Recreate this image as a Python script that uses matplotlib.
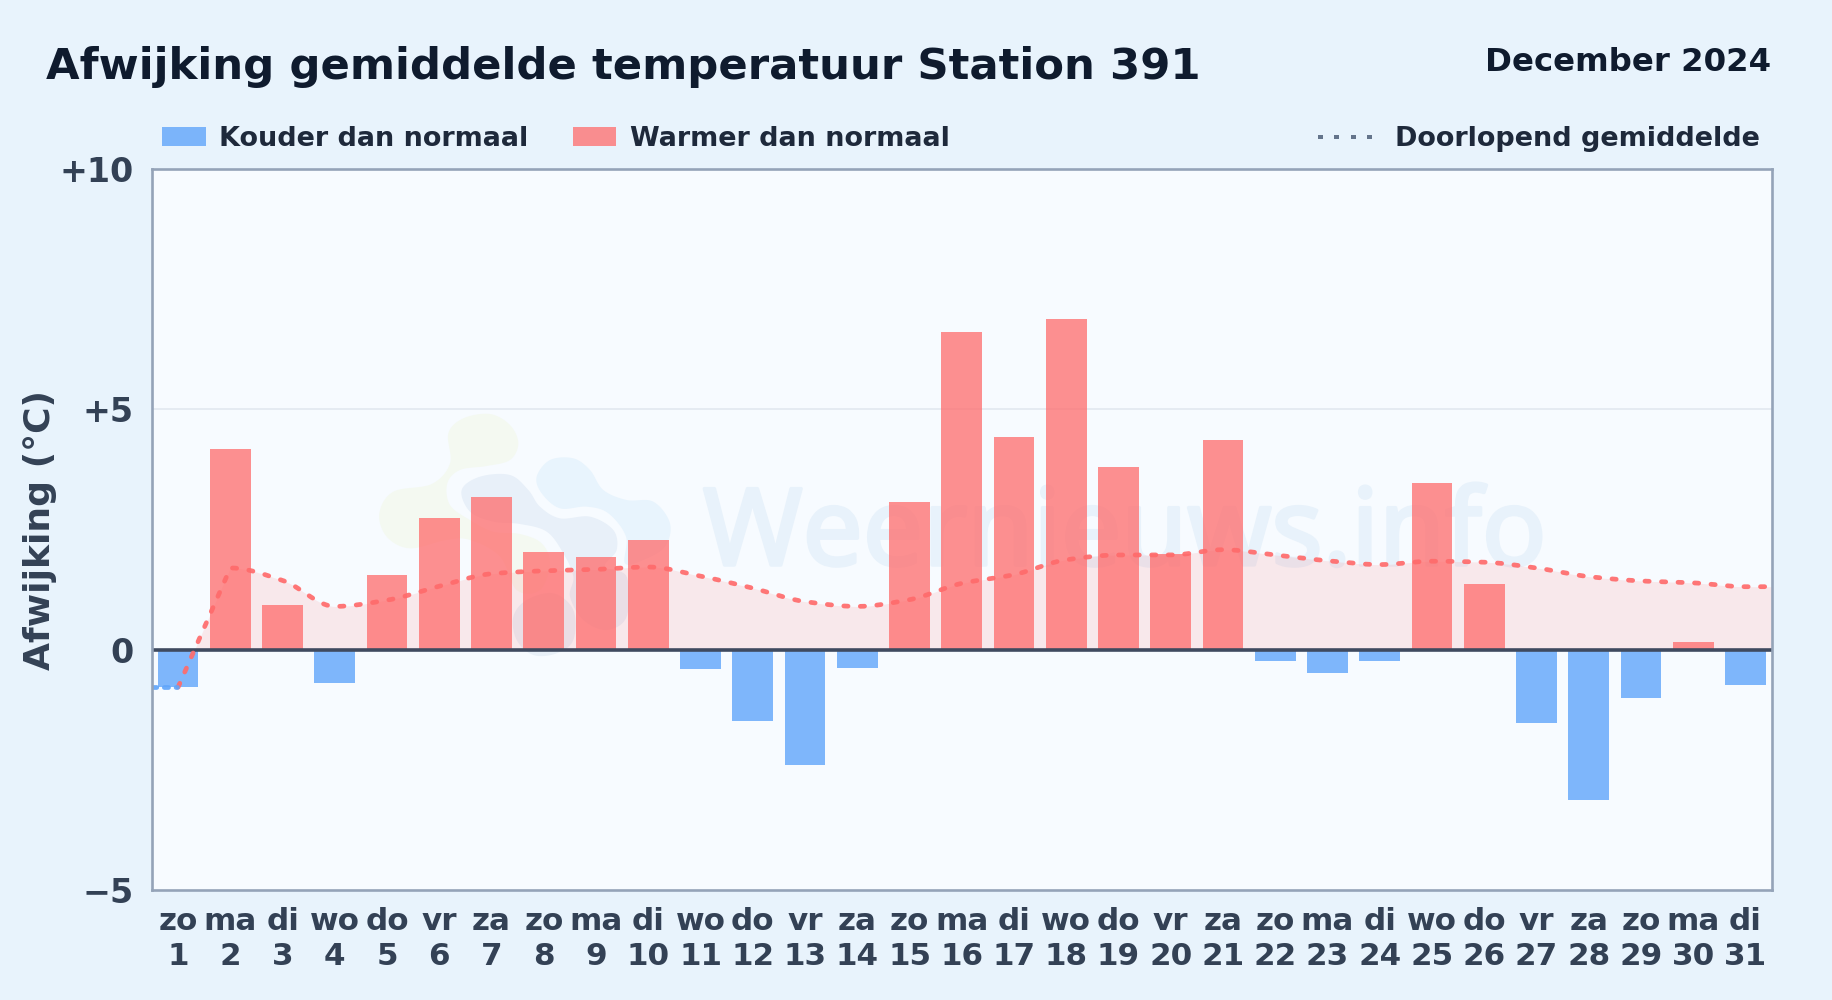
import numpy as np
import matplotlib
matplotlib.use("Agg")
import matplotlib.pyplot as plt
import matplotlib.patheffects as pe
from matplotlib.patches import PathPatch, Rectangle
from matplotlib.path import Path

W, H = 1832, 1000
plt.rcParams['font.family'] = ['DejaVu Sans']

weekdays = ["zo","ma","di","wo","do","vr","za","zo","ma","di","wo","do","vr","za","zo","ma","di","wo","do","vr","za","zo","ma","di","wo","do","vr","za","zo","ma","di"]
days = list(range(1, 32))
deviation = [-0.78,4.18,0.92,-0.70,1.55,2.74,3.18,2.04,1.92,2.28,-0.41,-1.48,-2.40,-0.39,3.08,6.60,4.42,6.87,3.81,1.99,4.37,-0.24,-0.49,-0.24,3.47,1.36,-1.53,-3.13,-1.00,0.15,-0.73]
running_mean = [-0.78,1.70,1.44,0.90,1.03,1.32,1.58,1.64,1.67,1.72,1.53,1.28,1.00,0.90,1.04,1.38,1.56,1.87,1.97,1.97,2.08,1.97,1.85,1.77,1.84,1.82,1.70,1.52,1.43,1.39,1.31]
yticks = [-5, 0, 5, 10]
yticklabels = ["\u22125", "0", "+5", "+10"]

BG = "#e8f3fc"; PLOT = "#f7fbff"; RED = "#ff6b6b"; BLUE = "#60a5fa"
INK = "#0f1b2e"; LEG = "#1e293b"; TICK = "#334155"; SPINE = "#94a3b8"


def catmull(x, y, n=24, tension=0.5):
    x = np.asarray(x, float); y = np.asarray(y, float)
    px = np.r_[x[-1], x, x[0], x[1]]; py = np.r_[y[-1], y, y[0], y[1]]
    outx, outy = [], []
    t = np.linspace(0, 1, n, endpoint=False)
    for i in range(1, len(px) - 2):
        for arr, out in ((px, outx), (py, outy)):
            p0, p1, p2, p3 = arr[i-1:i+3]
            m1 = tension * (p2 - p0); m2 = tension * (p3 - p1)
            out.extend((2*t**3-3*t**2+1)*p1 + (t**3-2*t**2+t)*m1 + (-2*t**3+3*t**2)*p2 + (t**3-t**2)*m2)
    return np.array(outx), np.array(outy)


def monotone(x, y, n=24):
    """Draw a smooth line through the read values without overshoot; steep steps stay straight."""
    x = np.asarray(x, float); y = np.asarray(y, float)
    h = np.diff(x); d = np.diff(y) / h
    m = np.zeros_like(y)
    for i in range(1, len(y) - 1):
        if d[i-1] * d[i] > 0:
            m[i] = 2 * d[i-1] * d[i] / (d[i-1] + d[i])
    t = np.linspace(0, 1, n, endpoint=False)
    sx, sy = [], []
    for i in range(len(h)):
        m0, m1 = (d[i], d[i]) if abs(d[i]) > 1 else (m[i], m[i+1])
        sx.extend(x[i] + t * h[i])
        sy.extend((2*t**3-3*t**2+1)*y[i] + (t**3-2*t**2+t)*h[i]*m0 + (-2*t**3+3*t**2)*y[i+1] + (t**3-t**2)*h[i]*m1)
    sx.append(x[-1]); sy.append(y[-1])
    return np.array(sx), np.array(sy)


fig = plt.figure(figsize=(W/100, H/100), dpi=100, facecolor=BG)
L, R, T, B = 152, 1771.5, 169, 890
ax = fig.add_axes([L/W, 1-B/H, (R-L)/W, (B-T)/H], facecolor=PLOT)
ax.set_xlim(-0.5, 30.5); ax.set_ylim(-5, 10)

# watermark logo (zoom-crop coordinates -> figure pixels)
def blob(pts, color):
    a = np.array(pts, float)
    xs = 360 + a[:, 0]/3; ys = 390 + a[:, 1]/3
    sx, sy = catmull(xs, ys)
    xy = np.c_[sx/W, 1-sy/H]
    ax.add_patch(PathPatch(Path(np.r_[xy, xy[:1]]), fc=color, ec='none', transform=fig.transFigure, zorder=0.5))

blob([(265,130),(310,85),(390,72),(450,105),(475,160),(450,210),(380,228),(300,240),(262,280),(270,345),(330,390),(400,425),(480,432),(545,460),(570,520),(540,600),(470,600),(420,500),(330,450),(260,450),(150,475),(80,440),(58,370),(100,305),(215,282),(270,220)], "#f4f9f1")
blob([(305,300),(360,260),(450,255),(505,300),(540,350),(600,385),(690,380),(760,420),(770,480),(735,530),(800,560),(800,680),(740,720),(670,690),(630,620),(640,560),(610,490),(560,425),(480,402),(400,395),(330,365)], "#e8f0f9")
blob([(530,260),(570,210),(640,205),(690,240),(730,300),(800,330),(880,335),(930,400),(915,470),(850,510),(795,520),(798,440),(745,370),(680,350),(600,355),(545,310)], "#e8f4fd")
blob([(460,680),(500,630),(580,610),(640,660),(640,750),(590,790),(520,795),(470,750)], "#e8f0f8")

ax.text((703+1547)/2/W, 1-565/H, "Weernieuws.info", transform=fig.transFigure, ha='center', va='baseline',
        fontsize=77, family='Noto Sans', color="#e8f2fb", zorder=0.6,
        path_effects=[pe.withStroke(linewidth=2.5, foreground="#e8f2fb")])

ax.grid(False)
ax.axhline(5, color="#e2e8f0", lw=1.2, zorder=1)

x = np.arange(len(days))
# running-mean area and line
sx, sy = monotone(np.r_[-0.5, x, 30.5], np.r_[running_mean[0], running_mean, running_mean[-1]])
ax.fill_between(sx, 0, sy, where=sy > 0, interpolate=True, color=RED, alpha=0.13, lw=0, zorder=1.5)

for xi, v in zip(x, deviation):
    ax.bar(xi, v, width=0.78, color=RED if v >= 0 else BLUE, alpha=0.75 if v >= 0 else 0.8, lw=0, zorder=2)

ax.axhline(0, color="#3f4a5f", lw=2.6, zorder=3)

mask = sx >= 0
ax.plot(sx[mask], sy[mask], color=RED, lw=3.4, alpha=0.92, ls=(0, (0.9, 2.6)), dash_capstyle='round', zorder=4)
ax.plot(sx[~mask], sy[~mask], color=BLUE, lw=3.4, alpha=0.92, ls=(0, (0.9, 1.6)), dash_capstyle='round', zorder=4)

for s in ax.spines.values():
    s.set_color(SPINE); s.set_linewidth(1.9); s.set_zorder(5)
ax.set_yticks(yticks); ax.set_yticklabels(yticklabels, fontsize=24, fontweight='bold', color=TICK)
ax.set_xticks(x); ax.set_xticklabels([f"{w}\n{d}" for w, d in zip(weekdays, days)], fontsize=22.3, fontweight='bold', color=TICK, linespacing=1.26)
ax.tick_params(length=0, pad=13, axis='y')
ax.tick_params(length=0, pad=12, axis='x')

def ftext(px, py, s, **kw):
    fig.text(px/W, 1-py/H, s, va='baseline', fontweight='bold', **kw)

ftext(46, 79, "Afwijking gemiddelde temperatuur Station 391", fontsize=31.2, color=INK, ha='left')
ftext(1771, 71, "December 2024", fontsize=23.3, color=INK, ha='right')
fig.text(40/W, 1-530/H, "Afwijking (\u00b0C)", rotation=90, va='center', ha='center', fontsize=26, fontweight='bold', color=TICK)

def swatch(x0, x1, c, a):
    fig.add_artist(Rectangle((x0/W, 1-146/H), (x1-x0)/W, 19/H, transform=fig.transFigure, fc=c, alpha=a, ec='none'))

swatch(162, 206, BLUE, 0.8)
ftext(219, 146, "Kouder dan normaal", fontsize=19.45, color=LEG, ha='left')
swatch(573, 616, RED, 0.75)
ftext(630, 146, "Warmer dan normaal", fontsize=19.45, color=LEG, ha='left')
ftext(1395, 146, "Doorlopend gemiddelde", fontsize=19.45, color=LEG, ha='left')
for dx in (1317.5, 1334, 1351, 1367):
    fig.add_artist(Rectangle((dx/W, 1-139/H), 5/W, 4/H, transform=fig.transFigure, fc="#64748b", ec='none'))

fig.savefig("out.png", dpi=100, facecolor=BG)
